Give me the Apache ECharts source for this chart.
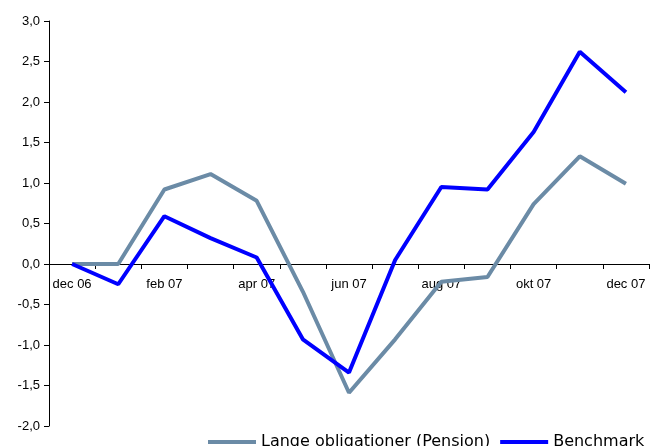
<!DOCTYPE html>
<html><head><meta charset="utf-8">
<script src="https://cdn.jsdelivr.net/npm/echarts@6/dist/echarts.min.js"></script>
<style>html,body{margin:0;padding:0;background:#fff}#c{width:662px;height:446px}</style>
</head><body><div id="c"></div>
<script>
var categories = ['dec 06','jan 07','feb 07','mar 07','apr 07','maj 07','jun 07','jul 07','aug 07','sep 07','okt 07','nov 07','dec 07'];
var lange = [0, 0, 0.92, 1.11, 0.78, -0.34, -1.59, -0.93, -0.22, -0.16, 0.74, 1.33, 0.99];
var benchmark = [0, -0.25, 0.59, 0.32, 0.08, -0.93, -1.34, 0.05, 0.95, 0.92, 1.63, 2.62, 2.12];
var seriesNames = ['Lange obligationer (Pension)', 'Benchmark'];
var yMin = -2, yMax = 3;

var gridTop = 21, gridBottom = 20, H = 446;
var plotH = H - gridTop - gridBottom;
var zeroOffset = -plotH * (0 - yMin) / (yMax - yMin);

var chart = echarts.init(document.getElementById('c'), null, {renderer:'canvas'});
chart.setOption({
  animation:false,
  grid:{left:49, right:13, top:gridTop, bottom:gridBottom, containLabel:false, outerBoundsMode:'none'},
  legend:{
    data:seriesNames, left:203, top:429, icon:'rect', itemWidth:48, itemHeight:4, itemGap:10,
    textStyle:{fontFamily:'DejaVu Sans', fontSize:16, color:'#000'}
  },
  xAxis:{
    type:'category', data:categories, boundaryGap:true, position:'bottom', offset:zeroOffset,
    axisLine:{onZero:false, lineStyle:{color:'#000', width:1}},
    axisTick:{show:true, interval:0, length:5, inside:false, lineStyle:{color:'#000'}},
    axisLabel:{interval:1, fontFamily:'Liberation Sans', fontSize:13, color:'#000', margin:14},
    splitLine:{show:false}
  },
  yAxis:{
    type:'value', min:yMin, max:yMax, interval:0.5,
    axisLine:{show:true, onZero:false, lineStyle:{color:'#000', width:1}},
    axisTick:{show:true, length:5, lineStyle:{color:'#000'}},
    axisLabel:{fontFamily:'Liberation Sans', fontSize:13, color:'#000', margin:9,
      formatter:function(v){return v.toFixed(1).replace('.',',');}},
    splitLine:{show:false}
  },
  series:[
    {name:seriesNames[0], type:'line', data:lange, symbol:'none', color:'#6B8BA6',
     lineStyle:{color:'#6B8BA6', width:4}, itemStyle:{color:'#6B8BA6'}},
    {name:seriesNames[1], type:'line', data:benchmark, symbol:'none', color:'#0000FF',
     lineStyle:{color:'#0000FF', width:4}, itemStyle:{color:'#0000FF'}}
  ]
});
</script></body></html>
